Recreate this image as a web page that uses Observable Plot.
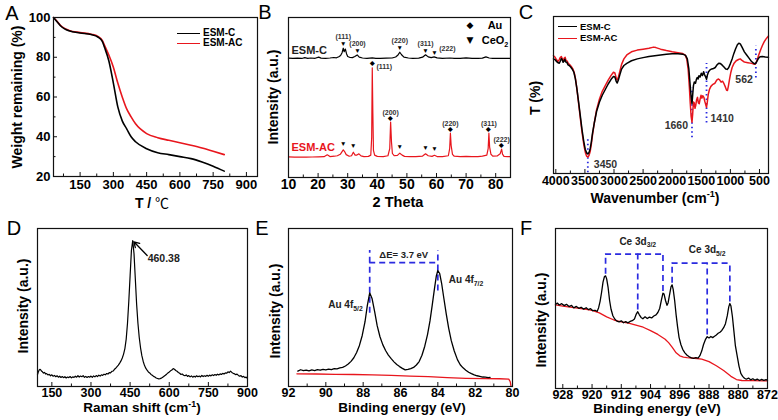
<!DOCTYPE html>
<html><head><meta charset="utf-8">
<script src="https://cdn.jsdelivr.net/npm/d3@7"></script>
<script src="https://cdn.jsdelivr.net/npm/@observablehq/plot@0.6"></script>
<style>
body{margin:0;background:#fff;}
#root{position:relative;width:778px;height:420px;overflow:hidden;background:#fff;}
sup,sub{font-size:65%;line-height:0;}
</style></head><body><div id="root"></div>
<script>
// ---------- DATA ----------
// A: TGA
const tgaTemp   = [30,45,60,80,100,150,200,230,250,260,280,300,320,340,360,380,400,450,500,550,600,650,700,750,800];
const tgaEsmC   = [100,98,96,94.3,93.3,92.2,91.4,90.2,88,85,78,67,55,48,44,40,37.5,34,32,31,30,29,27.3,25.2,22.7];
const tgaEsmAC  = [100,98.2,96.2,94.5,93.5,92.4,91.6,90.5,88.5,86,81,75,67,60,54,50,46.5,41.6,39.5,38.2,37,35.7,34.3,32.7,31];
const tgaXTicks = [150,300,450,600,750,900];
const tgaXMinor = [75,225,375,525,675,825];
const tgaYTicks = [20,40,60,80,100];
const tgaYMinor = [30,50,70,90];

// B: XRD (stacked, arbitrary units)
const xrdEsmC = [[10,74.6],[11.5,74.4],[13,74.6],[14.5,74.4],[15.5,74.9],[16.5,74.5],[17.5,74.7],[19,74.5],[20.2,75.2],[21,74.6],[22.5,74.5],[24,74.7],[25.3,75],[26.2,74.8],[27,75.5],[27.6,76.3],[28.1,78],[28.5,80.8],[28.8,78.6],[29.2,80.3],[29.6,77.4],[30,75.6],[30.8,75],[31.6,74.9],[32.4,75.6],[33.2,76.6],[33.9,75.2],[35,74.7],[36.5,74.5],[38.3,74.8],[39.5,74.5],[41,74.4],[43,74.6],[45,74.7],[46.2,75.3],[47,76.6],[47.6,78.3],[48.2,76.7],[49,75.2],[50.5,74.7],[52,74.5],[54,74.6],[55.3,75.2],[56.3,76.7],[57.2,75.4],[58.2,74.9],[59.2,75.4],[60.2,74.8],[62,74.5],[64.6,74.7],[66,74.4],[68,74.5],[70,74.8],[72,74.4],[74,74.5],[75.5,74.6],[76.7,75.4],[77.8,74.7],[79,74.5],[81,74.5],[83,74.4],[85,74.4]];
const xrdEsmAC = [[10,12.9],[12,12.7],[14,12.8],[16,12.7],[18,12.8],[20,12.9],[22,13],[23.1,14.2],[24,13.1],[25.5,13.3],[26.5,13.6],[27.5,14.5],[28.1,16.2],[28.5,17.3],[28.9,16.4],[29.5,14.3],[30.5,13.3],[31.3,13.6],[31.9,15.8],[32.5,14],[33.1,14],[33.8,14.8],[34.5,13.5],[35.5,13.1],[37,13.2],[37.8,14],[38.1,25],[38.3,68.6],[38.5,40],[38.7,17],[39.1,14],[40,13.2],[42,13.1],[43.6,13.6],[44.2,18],[44.5,34.6],[44.8,22],[45.1,15],[45.7,13.6],[46.8,13.8],[47.6,15.2],[48.4,14],[49.2,13.2],[51,13],[53,13.1],[55.3,13.4],[56.3,14.8],[57.2,13.6],[58.5,13.2],[59.3,13.9],[60.2,13.1],[62,13],[64,13.6],[64.45,18],[64.7,27.7],[64.95,20],[65.4,14.5],[66,13.3],[68,13.1],[70,13.2],[72,13.1],[74,13.1],[75.5,13.4],[77,14],[77.45,18],[77.7,27.7],[77.95,19],[78.4,14.5],[79,13.4],[80.5,13.5],[81.5,14.8],[82,17.7],[82.3,14.6],[82.8,13.2],[84,13],[85,13]];
const auPeaks = [38.3, 44.5, 64.7, 77.7, 82.0];
const auHkl = ["(111)","(200)","(220)","(311)","(222)"];
const ceo2PeaksC = [28.5, 33.3, 47.6, 56.3, 59.3];
const ceo2HklC = ["(111)","(200)","(220)","(311)","(222)"];
const ceo2PeaksAC = [28.5, 31.9, 47.6, 56.3, 59.3];
const xrdTicks = [10,20,30,40,50,60,70,80];
const xrdMinor = [15,25,35,45,55,65,75];

// C: FTIR
const ftirEsmC = [[4040,73],[4010,72.4],[3985,71.2],[3960,70.5],[3940,70.2],[3920,71.8],[3905,73.2],[3890,72.5],[3875,70.8],[3860,71.5],[3845,72.8],[3830,71],[3810,70.8],[3790,69.2],[3770,68.8],[3745,67.8],[3720,66.6],[3690,64.5],[3665,60.5],[3640,54.5],[3610,46],[3580,37],[3550,28],[3520,20.5],[3495,15.5],[3470,13],[3450,12.5],[3430,13.3],[3410,15.8],[3390,20],[3370,25.5],[3340,32],[3300,39.5],[3250,45.5],[3200,50],[3150,53.5],[3100,57],[3050,60],[3010,61.8],[2985,61.5],[2960,58.5],[2945,57.6],[2925,59.5],[2900,62.8],[2870,66.5],[2830,68.8],[2780,70.2],[2700,71.8],[2600,73],[2500,73.8],[2400,74.5],[2300,75],[2200,75.5],[2100,75.9],[2000,76.2],[1900,76.3],[1820,76],[1770,75.2],[1740,73],[1715,67],[1695,58],[1675,49],[1660,44.5],[1648,50],[1635,56],[1620,58.3],[1600,57.5],[1585,59.8],[1570,61.2],[1555,60.2],[1540,62.3],[1520,61.5],[1500,63.8],[1480,62.4],[1460,64.8],[1445,63],[1425,61.5],[1410,60],[1395,62.8],[1375,64.8],[1350,66],[1320,66.6],[1290,66.9],[1260,67.5],[1230,69.2],[1200,70.2],[1170,70],[1140,69],[1110,67.8],[1080,66.6],[1055,66.3],[1030,67.4],[1000,70],[970,73],[940,76.5],[910,79.5],[880,82],[855,83],[830,82.6],[800,80.5],[760,77.5],[720,75.5],[680,73.5],[640,71.5],[600,70.2],[575,69.8],[550,71],[520,73.2],[490,74.4],[450,74.5],[400,74.2],[345,74.1]];
const ftirEsmAC = [[4040,75],[4015,74.2],[3990,72.6],[3965,71.3],[3945,72.2],[3925,73.8],[3905,74.5],[3890,73.2],[3875,71.6],[3855,73.5],[3840,74],[3825,72],[3805,71.6],[3785,70],[3760,69.3],[3735,68.2],[3710,66.8],[3685,64.5],[3660,60],[3635,53],[3605,43.5],[3575,34],[3545,25],[3515,17.5],[3490,13],[3470,11],[3450,10.5],[3430,11.5],[3410,14],[3390,18.5],[3370,24.5],[3340,32],[3300,40.5],[3250,47.5],[3200,52.5],[3150,56],[3100,59.5],[3050,62.5],[3010,64.5],[2985,64],[2960,60.5],[2945,59.6],[2925,61.5],[2900,65],[2870,69.5],[2830,73],[2780,75.5],[2700,77.5],[2600,78.6],[2500,79.2],[2400,79.8],[2320,80.5],[2280,80.2],[2200,79.2],[2100,78.3],[2000,77.5],[1900,76.9],[1820,76.4],[1780,75.6],[1750,73],[1725,66],[1705,55],[1690,45],[1675,36.5],[1660,32.7],[1648,38],[1635,45.5],[1622,45],[1608,41.5],[1595,43.5],[1580,47],[1565,48.5],[1550,45],[1535,44.5],[1520,47.5],[1505,49.8],[1490,48],[1475,49.5],[1455,48.5],[1440,46],[1425,44],[1410,42.2],[1395,46],[1380,50.5],[1360,53.5],[1335,55.5],[1300,56.8],[1265,57.5],[1235,59.5],[1210,60.2],[1185,59.6],[1160,58.2],[1135,58.8],[1110,57.2],[1085,55],[1065,53],[1050,52.9],[1035,55.5],[1015,60],[995,64],[970,67.5],[940,70],[900,71.8],[860,72.6],[830,73],[800,72],[770,71.2],[740,70.8],[700,70.6],[660,70.3],[620,70],[590,69.6],[575,69.6],[555,70.8],[535,73],[510,75.8],[480,78.8],[450,81.5],[420,83.8],[390,85.6],[360,87],[345,87.6]];
const ftirBands = [3450, 1660, 1410, 562];
const ftirTicks = [4000,3500,3000,2500,2000,1500,1000,500];
const ftirMinor = [3750,3250,2750,2250,1750,1250,750];

// D: Raman
const ramanSpectrum = [[95,7.5],[98,9.2],[101,10.3],[104,10.9],[107,10.6],[110,9.8],[114,9.3],[118,8.5],[122,8.9],[126,7.9],[130,8.2],[135,7.3],[140,7.7],[145,6.8],[150,7.4],[155,6.5],[160,7.0],[165,6.2],[170,6.8],[175,5.9],[180,6.5],[185,5.7],[190,6.3],[195,5.6],[200,6.2],[205,5.4],[210,6.0],[215,5.6],[220,6.3],[225,5.5],[230,6.1],[235,5.8],[240,6.5],[245,5.9],[250,6.8],[255,6.0],[260,6.6],[265,6.2],[270,6.9],[275,5.8],[280,6.4],[285,5.7],[290,6.3],[295,5.9],[300,6.6],[305,5.8],[310,6.7],[315,6.1],[320,6.9],[325,6.3],[330,7.2],[335,6.6],[340,7.4],[345,7.0],[350,7.8],[355,7.4],[360,8.2],[365,7.9],[370,8.8],[375,8.6],[380,9.6],[385,9.8],[390,10.9],[395,11.6],[400,12.6],[405,13.5],[410,14.8],[415,16.2],[420,18.0],[425,20.5],[430,24],[435,30],[440,40],[445,54],[450,70],[455,86],[460,92.4],[465,84],[470,68],[475,52],[480,40],[485,31],[490,24.5],[495,19.5],[500,16],[505,13.4],[510,11.6],[515,10.3],[520,9.2],[525,8.6],[530,7.6],[535,7.1],[540,6.4],[545,6.0],[550,5.4],[555,5.1],[560,4.8],[565,5.0],[570,5.3],[575,5.9],[580,6.5],[585,7.1],[590,7.8],[595,8.6],[600,9.2],[605,9.9],[610,10.4],[615,11.3],[620,10.9],[625,10.1],[630,9.6],[635,8.9],[640,8.4],[645,7.6],[650,7.9],[655,7.1],[660,6.8],[665,7.3],[670,6.4],[675,6.9],[680,6.1],[685,6.7],[690,5.9],[695,6.5],[700,6.0],[705,6.8],[710,6.2],[715,6.6],[720,6.1],[725,7.0],[730,6.3],[735,6.8],[740,6.4],[745,7.1],[750,6.5],[755,7.2],[760,6.7],[765,7.4],[770,6.9],[775,7.6],[780,7.1],[785,7.8],[790,7.3],[795,8.0],[800,7.6],[805,8.3],[810,7.9],[815,8.6],[820,8.4],[825,9.3],[830,8.8],[835,9.7],[840,8.9],[845,8.4],[850,8.0],[855,7.5],[860,7.8],[865,7.0],[870,6.5],[875,6.9],[880,6.0],[885,6.4],[890,5.6],[895,5.9],[900,5.0]];
const ramanPeak = 460.38;
const ramanTicks = [150,300,450,600,750,900];
const ramanMinor = [225,375,525,675,825];

// E: XPS Au 4f
const xpsAu = [[91.5,9.7],[91.35,10.6],[91.2,10.0],[91.05,10.4],[90.9,9.9],[90.75,10.5],[90.6,10.1],[90.45,10.7],[90.3,10.3],[90.15,10.9],[90.0,10.5],[89.85,11.0],[89.7,10.7],[89.55,11.3],[89.4,11.2],[89.25,11.8],[89.1,12.1],[88.95,13.0],[88.8,14.2],[88.65,15.9],[88.5,18.2],[88.35,21.5],[88.2,26],[88.05,32.3],[87.9,41],[87.78,51],[87.65,59.3],[87.52,55.5],[87.38,47],[87.25,38.5],[87.1,31.5],[86.95,26.5],[86.8,22.8],[86.65,19.9],[86.5,17.6],[86.35,15.6],[86.2,13.9],[86.05,12.6],[85.9,11.5],[85.75,10.5],[85.6,10.8],[85.45,11.3],[85.3,12.1],[85.15,13.6],[85.0,15.8],[84.85,19.8],[84.7,25.5],[84.55,33],[84.42,41.5],[84.3,51.5],[84.18,62],[84.08,70],[84.0,73.4],[83.9,71.5],[83.8,65.5],[83.68,56],[83.55,46],[83.42,37],[83.28,29],[83.12,22.5],[82.95,17],[82.8,13.8],[82.65,11.8],[82.5,10.3],[82.35,9.0],[82.2,8.1],[82.05,7.3],[81.9,6.8],[81.75,6.4],[81.6,6.0],[81.45,5.9],[81.3,5.6],[81.2,5.8]];
const xpsAuBg = [[91.55,8.0],[90.5,7.9],[89.5,7.7],[88.5,7.6],[87.5,7.3],[86.5,7.0],[85.5,6.6],[84.5,6.2],[83.5,5.6],[82.5,5.2],[81.5,5.0],[80.7,4.9],[80.2,4.7],[80.12,3],[80.08,0.3]];
const auPeaksBE = [87.65, 84.0];
const auSplitting = 3.7;
const auLabels = ["Au 4f_{5/2}", "Au 4f_{7/2}"];
const xpsAuTicks = [92,90,88,86,84,82,80];
const xpsAuMinor = [91,89,87,85,83,81];

// F: XPS Ce 3d
const xpsCe = [[930,52.5],[929.5,53.4],[929,52.2],[928.3,53],[927.6,51.8],[927,52.6],[926.3,51.2],[925.6,51.9],[925,50.4],[924.3,51.3],[923.6,50.1],[923,50.8],[922.3,49.6],[921.6,50.5],[921,49.3],[920.4,49.9],[919.8,48.6],[919.2,48.9],[918.6,48.2],[918.2,50.5],[917.8,54.5],[917.4,60],[917,66.5],[916.6,70],[916.3,70.4],[916,68.5],[915.6,63],[915.2,55],[914.8,49.5],[914.3,45.5],[913.8,43.4],[913.2,42.1],[912.6,41.6],[912,42.3],[911.4,41.1],[910.8,41.8],[910.2,41],[909.6,41.9],[909,42.4],[908.4,43.5],[907.9,46.5],[907.5,48],[907.1,46.2],[906.6,44.4],[906.1,43.6],[905.5,44.8],[904.9,43.7],[904.3,44.6],[903.7,44.1],[903.1,45.3],[902.5,46],[902,47.5],[901.5,50],[901,55.5],[900.6,59.6],[900.3,59],[899.9,55],[899.5,52],[899.2,53.5],[898.8,58.5],[898.4,63.5],[898.1,64.8],[897.8,62],[897.4,55],[897,46],[896.6,38.5],[896.2,32],[895.7,27.5],[895.2,24.5],[894.6,22.3],[894,20.8],[893.4,19.8],[892.8,19.2],[892.2,18.8],[891.6,19.3],[891,19.0],[890.5,20.5],[890,23.4],[889.5,27.5],[889,30.5],[888.5,32.4],[888,31.6],[887.5,32.5],[887,31.8],[886.5,32.6],[886,33.5],[885.5,34.5],[885,35.2],[884.5,36.3],[884,38],[883.5,40.5],[883,45.5],[882.6,51],[882.3,53.1],[882,51.5],[881.6,45],[881.2,36],[880.8,27],[880.3,20.4],[879.8,14],[879.3,9.5],[878.8,7.6],[878.3,6.4],[877.8,5.8],[877.2,6.5],[876.6,5.4],[876,6.1],[875.4,5.2],[874.8,5.9],[874.2,5.0],[873.6,5.7],[873,5.1],[872.4,5.6],[872,5.3]];
const xpsCeBg = [[930,52.2],[928,51.5],[926,50.8],[924,50.2],[922,49.6],[920,48.8],[918,47.3],[916,44.8],[914,42.8],[912,41.6],[910,40.8],[908,39.6],[906,38.3],[904,36.2],[902,33.8],[900,30.8],[899,28.5],[898,25.5],[897,22.3],[896,20.4],[895,19.6],[894,19.3],[892,18.9],[890,18.3],[888,16.8],[886,14.2],[884,11.2],[882,7.6],[880.5,5.6],[879,5.0],[876,4.9],[872,4.8]];
const ce3d32 = [916.3, 907.5, 900.6];
const ce3d52 = [898.1, 888.5, 882.3];
const ceLabels = ["Ce 3d_{3/2}", "Ce 3d_{5/2}"];
const xpsCeTicks = [928,920,912,904,896,888,880,872];
const xpsCeMinor = [924,916,908,900,892,884,876];

// ---------- RENDERING ----------
const FONT = '"Liberation Sans", Arial, Helvetica, sans-serif';
const RED = "#e8161d", BLUE = "#2b2be0", INK = "#111";
const root = document.getElementById("root");
const X = d => d[0], Y = d => d[1];
const near = (s, x) => s.reduce((a, b) => Math.abs(b[0]-x) < Math.abs(a[0]-x) ? b : a)[1];
const peakY = (s, x, hw) => d3.max(s.filter(d => Math.abs(d[0]-x) <= hw), d => d[1]);

function richText(svg) {
  svg.querySelectorAll("text").forEach(t => {
    const s = t.textContent;
    if (!/[_^]\{/.test(s)) return;
    const fs = parseFloat(getComputedStyle(t).fontSize) || 10;
    while (t.firstChild) t.removeChild(t.firstChild);
    const re = /([_^])\{([^}]*)\}/g;
    let last = 0, m, carry = 0;
    const add = (str, dy, small) => {
      const ts = document.createElementNS("http://www.w3.org/2000/svg", "tspan");
      ts.textContent = str;
      if (dy) ts.setAttribute("dy", dy);
      if (small) ts.setAttribute("font-size", (fs*0.68).toFixed(2));
      t.appendChild(ts);
    };
    while ((m = re.exec(s))) {
      if (m.index > last) { add(s.slice(last, m.index), -carry, false); carry = 0; }
      const dy = m[1] === "_" ? fs*0.3 : -fs*0.4;
      add(m[2], dy - carry, true); carry = dy;
      last = re.lastIndex;
    }
    if (last < s.length) add(s.slice(last), -carry, false);
  });
}

function makePanel(o) {
  const [l, t, r, b] = o.frame, [mt, mr, mb, ml] = o.margins;
  const W = r - l, H = b - t;
  const [x0, x1] = o.xDomain, [y0, y1] = o.yDomain;
  const tx = (vals, len) => Plot.ruleX(vals, {x: d => d, y1: () => y0, y2: () => y0 + len / H * (y1 - y0), stroke: INK, strokeWidth: 1});
  const ty = (vals, len) => Plot.ruleY(vals, {y: d => d, x1: () => x0, x2: () => x0 + len / W * (x1 - x0), stroke: INK, strokeWidth: 1});
  const ticks = [tx(o.xTicks, 4), tx(o.xMinor, 2.5)];
  if (o.yAxis) ticks.push(ty(o.yTicks, 4), ty(o.yMinor, 2.5));
  const svg = Plot.plot({
    width: W + ml + mr, height: H + mt + mb,
    marginTop: mt, marginRight: mr, marginBottom: mb, marginLeft: ml,
    x: {domain: o.xDomain, ticks: o.xTicks, tickFormat: d => String(d), tickSize: 0, tickPadding: o.pad ?? 3, label: null},
    y: o.yAxis ? {domain: o.yDomain, ticks: o.yTicks, tickFormat: d => String(d), tickSize: 0, tickPadding: 3, label: null}
               : {domain: o.yDomain, axis: null},
    style: {fontFamily: FONT, fontSize: o.tickFont + "px", fontWeight: "bold", color: "#000", background: "none", overflow: "visible"},
    marks: [...o.marks, ...ticks, Plot.frame({stroke: INK, strokeWidth: 1.2})]
  });
  svg.style.position = "absolute";
  svg.style.left = (l - ml) + "px";
  svg.style.top = (t - mt) + "px";
  root.appendChild(svg);
  richText(svg);
}

function addText(html, x, y, o = {}) {
  const d = document.createElement("div");
  d.innerHTML = html;
  const tr = o.anchor === "start" ? "translate(0,-50%)" : "translate(-50%,-50%)";
  d.style.cssText = `position:absolute;left:${x}px;top:${y}px;white-space:nowrap;line-height:1;` +
    `font-family:${o.family || FONT};font-size:${o.size || 14}px;font-weight:${o.weight || "bold"};color:${o.color || "#000"};` +
    `transform:${tr}${o.rotate ? " rotate(-90deg)" : ""};`;
  root.appendChild(d);
}
function addLine(x1, x2, y, color, w = 1.6) {
  const d = document.createElement("div");
  d.style.cssText = `position:absolute;left:${x1}px;top:${y - w/2}px;width:${x2 - x1}px;height:${w}px;background:${color};`;
  root.appendChild(d);
}

// ---- A: TGA ----
makePanel({
  frame: [53, 17, 257, 176], margins: [5, 5, 22, 42],
  xDomain: [30, 950], yDomain: [20, 100], yAxis: true, tickFont: 13,
  xTicks: tgaXTicks, xMinor: tgaXMinor, yTicks: tgaYTicks, yMinor: tgaYMinor,
  marks: [
    Plot.line(tgaTemp, {x: d => d, y: (d, i) => tgaEsmAC[i], stroke: RED, strokeWidth: 1.6, curve: "monotone-x"}),
    Plot.line(tgaTemp, {x: d => d, y: (d, i) => tgaEsmC[i], stroke: "#000", strokeWidth: 1.6, curve: "monotone-x"})
  ]
});

// ---- B: XRD ----
const lab = {fontWeight: "bold", fill: "#333", fontSize: 7};
makePanel({
  frame: [288, 17, 510, 177], margins: [5, 5, 24, 5], pad: 2,
  xDomain: [10, 85], yDomain: [0, 100], tickFont: 14,
  xTicks: xrdTicks, xMinor: xrdMinor,
  marks: [
    Plot.line(xrdEsmAC, {x: X, y: Y, stroke: RED, strokeWidth: 1.2}),
    Plot.line(xrdEsmC, {x: X, y: Y, stroke: "#000", strokeWidth: 1.2}),
    Plot.text(ceo2PeaksC, {x: d => d, y: d => peakY(xrdEsmC, d, 0.6) + 2.6, text: () => "▼", fontSize: 6.5, fill: "#000"}),
    Plot.text(ceo2PeaksC, {x: d => d, y: d => peakY(xrdEsmC, d, 0.6) + 7.2, text: (d, i) => ceo2HklC[i], filter: (d, i) => i < 4, ...lab}),
    Plot.text(ceo2PeaksC, {x: d => d, y: d => peakY(xrdEsmC, d, 0.6) + 2.6, text: (d, i) => ceo2HklC[i], filter: (d, i) => i === 4, dx: 13, dy: -4, ...lab}),
    Plot.text(ceo2PeaksAC, {x: d => d, y: d => peakY(xrdEsmAC, d, 0.6) + 4, text: () => "▼", fontSize: 6.5, fill: "#000"}),
    Plot.text(auPeaks, {x: d => d, y: d => peakY(xrdEsmAC, d, 0.3) + 2.6, text: () => "◆", fontSize: 5.5, fill: "#000"}),
    Plot.text(auPeaks, {x: d => d, y: d => peakY(xrdEsmAC, d, 0.3) + 2.6, text: (d, i) => auHkl[i], filter: (d, i) => i > 0, dy: -5.5, ...lab}),
    Plot.text(auPeaks, {x: d => d, y: d => peakY(xrdEsmAC, d, 0.3) + 2.6, text: (d, i) => auHkl[i], filter: (d, i) => i === 0, dx: 12, dy: 3, ...lab}),
    Plot.text(["ESM-C"], {x: () => 11, y: () => xrdEsmC[0][1] + 4.5, text: d => d, textAnchor: "start", fontSize: 11, fontWeight: "bold", fill: "#222"}),
    Plot.text(["ESM-AC"], {x: () => 11, y: () => xrdEsmAC[0][1] + 6, text: d => d, textAnchor: "start", fontSize: 11, fontWeight: "bold", fill: RED})
  ]
});

// ---- C: FTIR ----
const bandMin = d => Math.min(near(ftirEsmC, d), near(ftirEsmAC, d));
const bandMax = d => Math.max(near(ftirEsmC, d), near(ftirEsmAC, d));
const bandLab = {text: d => String(d), fontSize: 10.5, fontWeight: "bold", fill: "#333"};
makePanel({
  frame: [553, 16, 768, 173], margins: [5, 5, 24, 5],
  xDomain: [4040, 345], yDomain: [0, 100], tickFont: 12.5,
  xTicks: ftirTicks, xMinor: ftirMinor,
  marks: [
    Plot.ruleX(ftirBands, {x: d => d, y1: d => bandMin(d) - 10, y2: d => bandMax(d) + 10, stroke: BLUE, strokeWidth: 1.8, strokeDasharray: "1.5,3"}),
    Plot.line(ftirEsmAC, {x: X, y: Y, stroke: RED, strokeWidth: 1.5}),
    Plot.line(ftirEsmC, {x: X, y: Y, stroke: "#000", strokeWidth: 1.5}),
    Plot.text(ftirBands, {x: d => d, y: d => bandMin(d) - 5, filter: (d, i) => i === 0, textAnchor: "start", dx: 6, ...bandLab}),
    Plot.text(ftirBands, {x: d => d, y: d => bandMin(d) - 2, filter: (d, i) => i === 1, textAnchor: "end", dx: -4, ...bandLab}),
    Plot.text(ftirBands, {x: d => d, y: d => bandMin(d) - 7.4, filter: (d, i) => i === 2, textAnchor: "start", dx: 4, ...bandLab}),
    Plot.text(ftirBands, {x: d => d, y: d => bandMin(d) - 11, filter: (d, i) => i === 3, textAnchor: "end", dx: -3, ...bandLab})
  ]
});

// ---- D: Raman ----
const ramanTop = near(ramanSpectrum, 460);
makePanel({
  frame: [37, 228, 247, 386], margins: [5, 5, 24, 5], pad: 2,
  xDomain: [95, 900], yDomain: [0, 100], tickFont: 12.5,
  xTicks: ramanTicks, xMinor: ramanMinor,
  marks: [
    Plot.line(ramanSpectrum, {x: X, y: Y, stroke: "#000", strokeWidth: 1.2}),
    Plot.arrow([ramanPeak], {x1: d => d + 55, y1: () => ramanTop - 9.5, x2: d => d + 4, y2: () => ramanTop - 0.8, stroke: "#000", strokeWidth: 1.3, headLength: 7}),
    Plot.text([ramanPeak], {x: d => d + 57, y: () => ramanTop - 11.6, text: d => d.toFixed(2), textAnchor: "start", fontSize: 10.5, fontWeight: "bold", fill: "#222"})
  ]
});

// ---- E: XPS Au 4f ----
const auBracketY = d3.max(auPeaksBE, d => near(xpsAu, d)) + 5;
makePanel({
  frame: [288, 228, 512, 386], margins: [5, 5, 24, 5], pad: 2,
  xDomain: [92, 80], yDomain: [0, 100], tickFont: 12.5,
  xTicks: xpsAuTicks, xMinor: xpsAuMinor,
  marks: [
    Plot.ruleX(auPeaksBE, {x: d => d, y1: d => near(xpsAu, d) - 13, y2: () => auBracketY + 7.7, stroke: BLUE, strokeWidth: 1.7, strokeDasharray: "6,4"}),
    Plot.ruleY([auBracketY], {y: d => d, x1: () => auPeaksBE[0], x2: () => auPeaksBE[1], stroke: BLUE, strokeWidth: 1.7, strokeDasharray: "6,4"}),
    Plot.line(xpsAuBg, {x: X, y: Y, stroke: RED, strokeWidth: 1.3}),
    Plot.line(xpsAu, {x: X, y: Y, stroke: "#000", strokeWidth: 1.3}),
    Plot.text([auSplitting], {x: () => (auPeaksBE[0] + auPeaksBE[1]) / 2, y: () => auBracketY + 4.6, text: d => `ΔE= ${d} eV`, fontSize: 9.5, fontWeight: "bold", fill: "#222"}),
    Plot.text(auPeaksBE, {x: d => d, y: d => near(xpsAu, d) - 7.6, text: (d, i) => auLabels[i], filter: (d, i) => i === 0, textAnchor: "end", dx: -7, fontSize: 10, fontWeight: "bold", fill: "#222"}),
    Plot.text(auPeaksBE, {x: d => d, y: d => near(xpsAu, d) - 5.7, text: (d, i) => auLabels[i], filter: (d, i) => i === 1, textAnchor: "start", dx: 11, fontSize: 10, fontWeight: "bold", fill: "#222"})
  ]
});

// ---- F: XPS Ce 3d ----
const ceGroups = [ce3d32, ce3d52];
const ceBracketY = ceGroups.map(g => d3.max(g, d => near(xpsCe, d)) + 13.6);
const ceDash = {stroke: BLUE, strokeWidth: 1.7, strokeDasharray: "6,4"};
makePanel({
  frame: [555, 228, 767, 388], margins: [5, 5, 24, 5], pad: 2,
  xDomain: [930, 872], yDomain: [0, 100], tickFont: 12.5,
  xTicks: xpsCeTicks, xMinor: xpsCeMinor,
  marks: [
    ...ceGroups.flatMap((g, k) => [
      Plot.ruleX(g, {x: d => d, y1: d => near(xpsCe, d) + 1, y2: () => ceBracketY[k], ...ceDash}),
      Plot.ruleY([ceBracketY[k]], {y: d => d, x1: () => g[0], x2: () => g[2], ...ceDash})
    ]),
    Plot.line(xpsCeBg, {x: X, y: Y, stroke: RED, strokeWidth: 1.3}),
    Plot.line(xpsCe, {x: X, y: Y, stroke: "#000", strokeWidth: 1.3}),
    Plot.text(ceGroups, {x: g => g[1], y: (g, k) => ceBracketY[k] + 8, text: (g, k) => ceLabels[k], fontSize: 10, fontWeight: "bold", fill: "#222"})
  ]
});

// ---- HTML text: panel letters, axis titles, legends ----
const letters = [["A", 12, 12.5], ["B", 265, 12], ["C", 526, 12], ["D", 14, 228], ["E", 262, 228], ["F", 526, 228]];
letters.forEach(([s, x, y]) => addText(s, x, y, {size: 20, weight: "normal"}));

addText("Weight remaining (%)", 17, 97, {rotate: true, size: 14});
addText('T / <span style="font-family:\'Noto Sans CJK SC\',\'DejaVu Sans\';font-weight:normal">℃</span>', 152, 202, {size: 14});
addText("Intensity (a.u.)", 273, 97, {rotate: true, size: 14});
addText("2 Theta", 398, 201.5, {size: 14.5});
addText("T (%)", 535, 98, {rotate: true, size: 14});
addText("Wavenumber (cm<sup>-1</sup>)", 655, 197.5, {size: 14});
addText("Intensity (a.u.)", 23, 306, {rotate: true, size: 14});
addText("Raman shift (cm<sup>-1</sup>)", 142, 407.5, {size: 13.5});
addText("Intensity (a.u.)", 275, 311, {rotate: true, size: 14});
addText("Binding energy (eV)", 402, 407.5, {size: 13.5});
addText("Intensity (a.u.)", 541, 320, {rotate: true, size: 14});
addText("Binding energy (eV)", 657, 409, {size: 13.5});

// legend A
addLine(177, 200, 33.3, "#000");
addText("ESM-C", 203, 33.3, {anchor: "start", size: 10});
addLine(177, 200, 43.3, RED);
addText("ESM-AC", 203, 43.3, {anchor: "start", size: 10});
// legend B
addText("◆", 470, 25, {size: 9, family: '"DejaVu Sans"'});
addText("Au", 495, 25, {size: 11});
addText("▼", 470, 40, {size: 9, family: '"DejaVu Sans"'});
addText("CeO<sub>2</sub>", 495, 40, {size: 11});
// legend C
addLine(558, 577, 26.7, "#000");
addText("ESM-C", 580, 26.7, {anchor: "start", size: 9.5});
addLine(558, 577, 38.3, RED);
addText("ESM-AC", 580, 38.3, {anchor: "start", size: 9.5});
</script></body></html>
